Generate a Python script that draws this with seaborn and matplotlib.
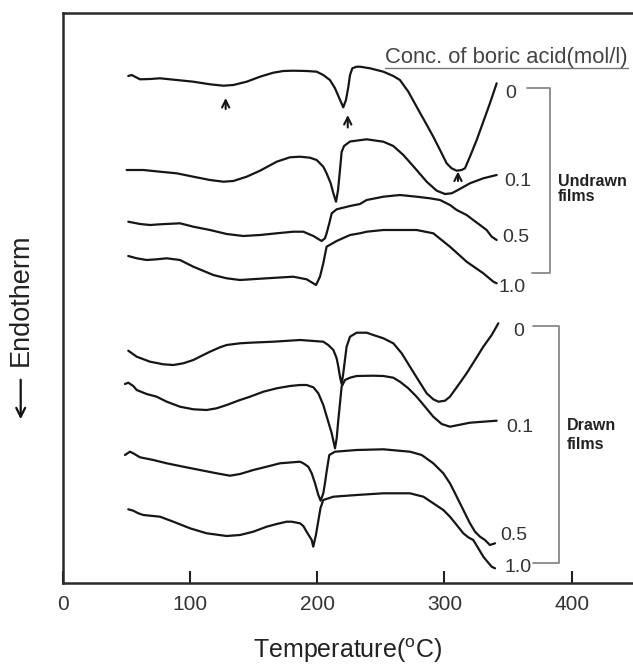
import matplotlib
matplotlib.use("Agg")
import matplotlib.pyplot as plt
import seaborn as sns
import pandas as pd

# ---------------- data (temperature in °C, signal in arbitrary offset units) ----------------
# Undrawn films
T_u0 = [51.6, 54.3, 60.8, 68.7, 76.5, 89.6, 102.7, 115.8, 126.3, 134.1, 144.6, 155.1, 165.5, 173.4,
        181.2, 191.7, 199.6, 204.8, 210.0, 214.0, 217.4, 220.5, 222.6, 224.5, 225.8, 227.6, 231.0,
        233.6, 241.5, 252.0, 259.8, 265.0, 271.6, 278.1, 284.7, 291.2, 296.5, 301.7, 305.6, 309.6,
        313.5, 316.1, 320.0, 325.3, 330.5, 335.7, 341.0]
Y_u0 = [507, 508, 503.7, 504, 504.7, 503, 501.3, 498.7, 497.3, 498, 501.3, 506.3, 510.3, 512,
        512.3, 512, 511.3, 508, 503, 494.7, 484.7, 475.7, 483, 496.3, 508, 514.7, 516.3,
        516.3, 514.7, 511.3, 507, 503, 491.3, 476.3, 461.3, 446.3, 433, 419.7, 414.7, 412.3,
        413, 414.7, 426.3, 443, 461.3, 479.7, 499.7]

T_u01 = [50.3, 63.4, 76.5, 89.6, 102.7, 115.8, 126.3, 134.1, 144.6, 155.1, 168.2, 178.6, 186.5,
         194.3, 199.6, 204.8, 207.4, 210.6, 212.7, 214.8, 216.4, 217.9, 219.2, 221.1, 225.8,
         238.9, 252.0, 259.8, 267.7, 278.1, 286.0, 293.9, 300.4, 305.6, 309.6, 320.0, 330.5, 341.0]
Y_u01 = [413, 413, 411.3, 409.7, 406.3, 403, 401.3, 402, 406.3, 412.3, 421.3, 425.7, 426.3,
         425.3, 423, 416.3, 409.7, 399.7, 389.7, 381.3, 393, 413, 431, 437, 441.5,
         443.7, 441.3, 437, 428, 413, 401.3, 392.3, 389, 389.7, 392.3, 399.7, 404.7, 408]

T_u05 = [51.6, 60.8, 68.7, 76.5, 92.2, 102.7, 115.8, 128.9, 142.0, 155.1, 168.2, 181.2, 189.1,
         197.0, 203.5, 206.1, 207.4, 209.5, 211.4, 215.3, 225.8, 233.6, 238.9, 252.0, 265.0,
         278.1, 288.6, 296.5, 304.3, 309.6, 317.4, 322.6, 327.9, 333.1, 337.1, 341.0]
Y_u05 = [361.3, 359, 358, 358.7, 359.7, 356.3, 353, 349, 347, 348, 349.7, 351.3, 351.3,
         347, 342, 344.7, 349.7, 359.7, 369.7, 373.7, 377, 379, 383, 386.3, 388,
         386.3, 384.7, 383, 378, 373, 368, 363, 358, 353, 346.3, 343]

T_u10 = [51.6, 58.2, 66.0, 73.9, 81.8, 92.2, 102.7, 118.4, 128.9, 139.4, 160.3, 181.2, 191.7,
         199.1, 202.2, 204.8, 207.4, 215.3, 225.8, 233.6, 238.9, 252.0, 278.1, 291.2, 304.3,
         317.4, 330.5, 338.4, 341.0]
Y_u10 = [327, 324.7, 323, 323.7, 324.7, 323, 316.3, 308, 304.7, 303, 304.7, 306.3, 303.7,
         298, 306.3, 319.7, 336.3, 342, 348, 349.7, 351.3, 353, 353, 349.7, 336.3,
         321.3, 309.7, 301.3, 299.7]

# Drawn films
T_d0 = [51.6, 58.2, 68.7, 79.1, 87.0, 94.8, 102.7, 110.5, 115.8, 123.6, 128.9, 139.4, 147.2,
        165.5, 186.5, 194.3, 204.8, 208.7, 212.7, 215.3, 216.6, 217.9, 219.2, 220.5, 221.8,
        223.1, 225.8, 231.0, 238.9, 244.1, 252.0, 259.8, 266.4, 272.9, 279.4, 286.0, 291.2,
        295.2, 300.4, 304.3, 310.9, 317.4, 324.0, 330.5, 337.1, 342.3]
Y_d0 = [232.3, 226.3, 221.3, 218.7, 218, 219.7, 223, 228, 231.3, 235.7, 238, 239.7, 240.3,
        241.3, 243, 242.3, 241.3, 238, 233, 224.7, 216.3, 206.3, 199, 209.7, 223,
        236.3, 246.3, 250.3, 250.3, 248, 244.7, 239.7, 229.7, 216.3, 203, 189.7, 183.7,
        181.3, 182.3, 186.3, 198, 209.7, 223, 236.3, 248, 259.7]

T_d01 = [49.0, 51.6, 55.5, 58.2, 66.0, 73.9, 81.8, 92.2, 102.7, 113.2, 121.0, 128.9, 139.4,
         147.2, 157.7, 168.2, 178.6, 186.5, 191.7, 197.0, 200.9, 204.8, 208.7, 211.4, 214.0,
         215.3, 216.6, 217.9, 219.2, 221.8, 225.8, 231.0, 244.1, 252.0, 259.8, 265.0, 271.6,
         278.1, 284.7, 291.2, 297.8, 304.3, 312.2, 320.0, 330.5, 341.0]
Y_d01 = [199, 200.3, 197, 193, 189, 186.3, 181.3, 176.3, 173.7, 173, 174.7, 178, 183,
         186.3, 191.3, 194.7, 197, 198, 198, 195.7, 189.7, 178, 161.3, 149.7, 134.7,
         144.7, 163, 179.7, 196.3, 203, 205.3, 207, 207.3, 207, 205.3, 201.3, 194.7,
         186.3, 176.3, 166.3, 159, 156.3, 158.3, 160.3, 161.3, 162.3]

T_d05 = [49.0, 52.9, 55.5, 60.8, 71.3, 81.8, 94.8, 107.9, 121.0, 131.5, 139.4, 149.8, 160.3,
         170.8, 186.5, 189.1, 193.0, 195.7, 198.3, 200.9, 202.7, 204.8, 206.1, 207.4, 209.5,
         214.0, 231.0, 252.0, 272.9, 282.1, 291.2, 299.1, 304.3, 308.3, 312.2, 316.1, 320.0,
         324.0, 327.9, 331.8, 335.7, 339.7]
Y_d05 = [128, 131.3, 129.7, 125.7, 123, 119.7, 116.3, 113, 109.7, 107.3, 109, 113, 116.3,
         119.7, 121.3, 119.7, 116.3, 109.7, 99.7, 88, 82.3, 89.7, 99.7, 111.3, 128,
         131.3, 133, 133.7, 131.3, 128, 119.7, 109.7, 99.7, 89.7, 79.7, 69.7, 59.7,
         51.3, 46.3, 43, 38, 39.7]

T_d10 = [51.6, 55.5, 59.5, 63.4, 76.5, 87.0, 100.1, 113.2, 128.9, 139.4, 149.8, 160.3, 168.2,
         176.0, 180.0, 186.5, 189.1, 191.7, 195.7, 196.9, 199.0, 201.0, 202.6, 204.8, 212.7,
         231.0, 252.0, 272.9, 283.4, 291.2, 299.1, 304.3, 309.6, 314.8, 318.7, 322.6, 326.6,
         330.5, 334.4, 337.1, 339.7]
Y_d10 = [73.7, 72.3, 69.7, 68, 66.3, 61.3, 54.7, 49.7, 47, 48, 51.3, 56.3, 59,
         61.3, 61.3, 59.7, 57, 51.3, 43, 36.3, 48, 63, 75, 83, 86.3,
         88, 89.7, 89.7, 86.3, 79.7, 73, 66.3, 58, 49.7, 45.7, 43, 34.7,
         26.3, 20.3, 16.3, 14.7]

conc_labels = ["0", "0.1", "0.5", "1.0"]
xticks = [0, 100, 200, 300, 400]
# transition arrows on the undrawn, 0 mol/l curve (temperature, tail, head)
arrow_T = [128.1, 224.0, 310.6]
arrow_tail = [474, 455.5, 402]
arrow_head = [485, 468, 411.5]

curves = [
    ("Undrawn", "0", T_u0, Y_u0), ("Undrawn", "0.1", T_u01, Y_u01),
    ("Undrawn", "0.5", T_u05, Y_u05), ("Undrawn", "1.0", T_u10, Y_u10),
    ("Drawn", "0", T_d0, Y_d0), ("Drawn", "0.1", T_d01, Y_d01),
    ("Drawn", "0.5", T_d05, Y_d05), ("Drawn", "1.0", T_d10, Y_d10),
]

# ---------------- figure ----------------
sns.set_theme(style="white")
plt.rcParams["font.family"] = ["Liberation Sans", "DejaVu Sans"]

fig = plt.figure(figsize=(6.33, 6.64), dpi=100)
ax = fig.add_axes([62.6 / 633, 81 / 664, 1 - 62.6 / 633, 570 / 664])

line_col = "#161616"
for film, conc, T, Y in curves:
    df = pd.DataFrame({"T": T, "Y": Y})
    sns.lineplot(data=df, x="T", y="Y", ax=ax, color=line_col, lw=1.6,
                 sort=False, estimator=None)

ax.set_xlim(0, 448.1)
ax.set_ylim(0, 570)
ax.set_yticks([])
ax.set_xticks(xticks)
ax.set_xticklabels([str(t) for t in xticks], fontsize=15, color="#333333")
ax.tick_params(axis="x", direction="in", length=9, width=1.5, color="#222222", pad=9,
               bottom=True)
ax.set_ylabel("")
ax.set_xlabel("Temperature($\\mathregular{^{o}}$C)", fontsize=18, color="#222222", labelpad=16)

for s in ["left", "bottom", "top"]:
    ax.spines[s].set_visible(True)
    ax.spines[s].set_color("#2a2a2a")
    ax.spines[s].set_linewidth(1.8)
ax.spines["right"].set_visible(False)

# arrows marking transitions
for t, y0, y1 in zip(arrow_T, arrow_tail, arrow_head):
    ax.annotate("", xy=(t, y1), xytext=(t, y0),
                arrowprops=dict(arrowstyle="->", lw=1.5, color=line_col,
                                mutation_scale=13, shrinkA=0, shrinkB=0))

# concentration labels
lab_x_u = [347.5, 346.8, 345.0, 342.8]
lab_y_u = [490, 401, 346, 296]
lab_x_d = [353.8, 348.3, 343.6, 346.8]
lab_y_d = [251.3, 155, 48, 15]
for lab, x, y in zip(conc_labels, lab_x_u, lab_y_u):
    ax.text(x, y, lab, fontsize=14, color="#333333", ha="left", va="center")
for lab, x, y in zip(conc_labels, lab_x_d, lab_y_d):
    ax.text(x, y, lab, fontsize=14, color="#333333", ha="left", va="center")

# brackets
br_col = "#888888"
ax.plot([364.6, 383, 383, 368.5], [495.3, 495.3, 310, 310], color=br_col, lw=1.3)
ax.plot([369.3, 390, 390, 369.3], [257, 257, 20, 20], color=br_col, lw=1.3)
ax.text(389.2, 394, "Undrawn\nfilms", fontsize=11.5, fontweight="bold", color="#222222",
        ha="left", va="center", linespacing=0.95)
ax.text(396, 148, "Drawn\nfilms", fontsize=11.5, fontweight="bold", color="#222222",
        ha="left", va="center", linespacing=1.3)

# header
ax.text(253.3, 526, "Conc. of boric acid(mol/l)", fontsize=15.8, color="#444444",
        ha="left", va="center")
ax.plot([253.3, 444.2], [515, 515], color="#777777", lw=1.0)

# y label with arrow
fig.text(21 / 633, 1 - 300 / 664, "Endotherm", rotation=90, fontsize=19.5,
         color="#222222", ha="center", va="center")
fig.patches.append(matplotlib.patches.FancyArrowPatch(
    (20.7 / 633, 1 - 377 / 664), (20.7 / 633, 1 - 422 / 664),
    transform=fig.transFigure, arrowstyle="->", mutation_scale=16, lw=1.6,
    color="#111111"))

fig.savefig("out.png", dpi=100)
